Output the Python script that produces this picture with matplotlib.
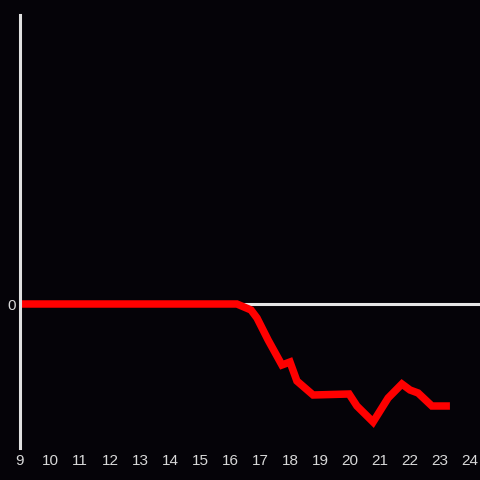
import matplotlib
matplotlib.use('Agg')
import matplotlib.pyplot as plt

# --- datos ---
hours = [9.0, 16.23, 16.7, 16.9, 17.27, 17.73, 18.0, 18.23, 18.77, 19.97,
         20.23, 20.77, 21.27, 21.73, 22.0, 22.27, 22.73, 23.33]
values = [0, 0, -0.6, -1.4, -3.6, -6.1, -5.8, -7.7, -9.1, -9.0,
          -10.2, -11.8, -9.4, -8.0, -8.6, -8.9, -10.2, -10.2]
xticks = list(range(9, 25))

bg = '#050308'
fig = plt.figure(figsize=(4.8, 4.8), dpi=100, facecolor=bg)
ax = fig.add_axes([20 / 480, 32 / 480, 460 / 480, 433 / 480], facecolor=bg)

ax.axhline(0, color='#e6e6e6', lw=2.2, zorder=1)
ax.plot(hours, values, color='#ff0000', lw=5.4, solid_capstyle='butt',
        solid_joinstyle='miter', zorder=2)

ax.set_xlim(9, 24.333)
ax.set_ylim(-14.4, 28.9)
ax.set_xticks(xticks)
ax.set_xticklabels([str(t) for t in xticks])
ax.set_yticks([0])
ax.set_yticklabels(['0'])

for s in ['top', 'right', 'bottom']:
    ax.spines[s].set_visible(False)
ax.spines['left'].set_color('#e0e0e0')
ax.spines['left'].set_linewidth(2.2)

ax.tick_params(axis='both', length=0, colors='#d8d8d8', labelsize=11,
               labelfontfamily='Liberation Sans')
ax.tick_params(axis='x', pad=4)
ax.tick_params(axis='y', pad=3)

fig.savefig('out.png', dpi=100, facecolor=bg)
